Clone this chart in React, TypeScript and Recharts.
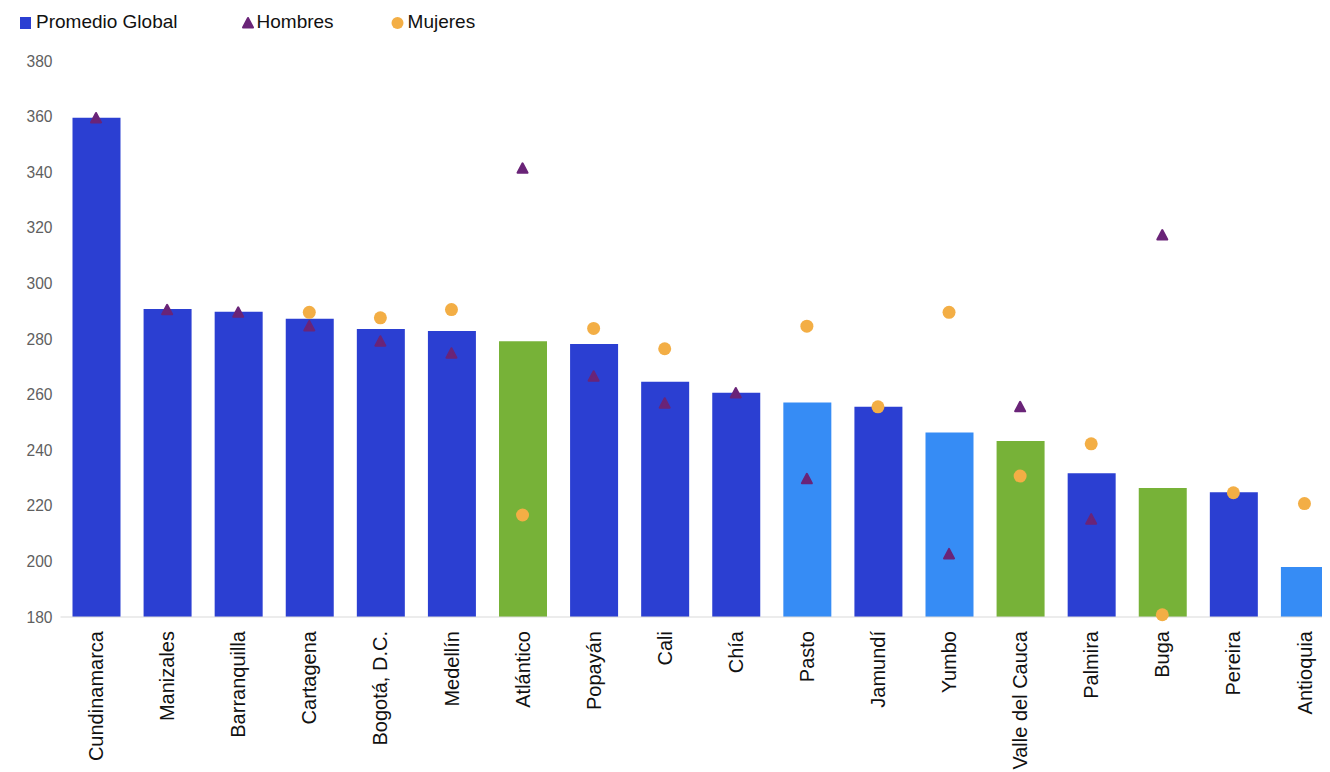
import { ComposedChart, Bar, Line, XAxis, YAxis, Cell } from 'recharts';

const categories = [
  'Cundinamarca', 'Manizales', 'Barranquilla', 'Cartagena', 'Bogotá, D.C.', 'Medellín',
  'Atlántico', 'Popayán', 'Cali', 'Chía', 'Pasto', 'Jamundí', 'Yumbo', 'Valle del Cauca',
  'Palmira', 'Buga', 'Pereira', 'Antioquia',
];

const promedioGlobal = [
  359.6, 290.8, 289.8, 287.3, 283.6, 282.9, 279.2, 278.2, 264.6, 260.7, 257.2, 255.6,
  246.4, 243.3, 231.7, 226.4, 224.9, 198,
];

const hombres: (number | null)[] = [
  359.5, 290.5, 289.6, 284.7, 279.2, 274.9, 341.4, 266.6, 256.9, 260.6, 229.7, null,
  202.7, 255.6, 215.2, 317.4, null, null,
];

const mujeres: (number | null)[] = [
  null, null, null, 289.6, 287.6, 290.6, 216.7, 283.8, 276.5, null, 284.6, 255.6,
  289.6, 230.7, 242.3, 180.8, 224.7, 220.8,
];

// colour group of each bar: 0 dark blue, 1 light blue, 2 green
const barGroup = [0, 0, 0, 0, 0, 0, 2, 0, 0, 0, 1, 0, 1, 2, 0, 2, 0, 1];

const yTicks = [180, 200, 220, 240, 260, 280, 300, 320, 340, 360, 380];

const groupColors = ['#2b3fd2', '#368cf5', '#77b238'];
const menColor = '#6a2478';
const womenColor = '#f3ae45';
const font = '"Liberation Sans", Arial, sans-serif';

const data = categories.map((name, i) => ({
  name,
  promedio: promedioGlobal[i],
  hombres: hombres[i],
  mujeres: mujeres[i],
}));

const Triangle = (props: any) => {
  const { cx, cy, value } = props;
  if (value == null || cx == null || cy == null) return <g />;
  return (
    <path
      d={`M${cx},${cy - 5} L${cx + 5},${cy + 4.5} L${cx - 5},${cy + 4.5} Z`}
      fill={menColor}
      stroke={menColor}
      strokeWidth={2}
      strokeLinejoin="round"
    />
  );
};

const Dot = (props: any) => {
  const { cx, cy, value } = props;
  if (value == null || cx == null || cy == null) return <g />;
  return <circle cx={cx} cy={cy} r={6.5} fill={womenColor} />;
};

const XTick = (props: any) => {
  const { x, y, payload } = props;
  const ty = y + 6;
  return (
    <text
      x={x}
      y={ty}
      dy="0.355em"
      textAnchor="end"
      transform={`rotate(-90, ${x}, ${ty})`}
      fill="#111"
      fontSize={20}
      fontFamily={font}
    >
      {payload.value}
    </text>
  );
};

function ChartLegend() {
  const item = { display: 'flex', alignItems: 'center' } as const;
  return (
    <div
      style={{
        position: 'absolute',
        top: 10,
        left: 20,
        display: 'flex',
        alignItems: 'center',
        fontFamily: font,
        fontSize: 19,
        color: '#111',
        lineHeight: '24px',
      }}
    >
      <div style={{ ...item, marginRight: 64 }}>
        <svg width={12} height={13} style={{ marginRight: 4 }}>
          <rect x={0} y={1} width={11} height={12} fill={groupColors[0]} />
        </svg>
        Promedio Global
      </div>
      <div style={{ ...item, marginRight: 57 }}>
        <svg width={12} height={13} style={{ marginRight: 3 }}>
          <path d="M6,2 L11,11.5 L1,11.5 Z" fill={menColor} stroke={menColor} strokeWidth={2} strokeLinejoin="round" />
        </svg>
        Hombres
      </div>
      <div style={item}>
        <svg width={13} height={13} style={{ marginRight: 4 }}>
          <circle cx={6.5} cy={7} r={6} fill={womenColor} />
        </svg>
        Mujeres
      </div>
    </div>
  );
}

export default function App() {
  return (
    <div style={{ width: 1330, height: 772, overflow: 'hidden', margin: '-8px 0 0 -8px', position: 'relative', background: '#fff' }}>
      <ChartLegend />
      <ComposedChart
        width={1340}
        height={772}
        data={data}
        margin={{ top: 61, right: 0, bottom: 0, left: 0 }}
        barCategoryGap={0}
      >
        <XAxis
          dataKey="name"
          interval={0}
          height={155}
          tickLine={false}
          axisLine={{ stroke: '#d9d9d9' }}
          tick={<XTick />}
        />
        <YAxis
          width={60.5}
          domain={[180, 380]}
          ticks={yTicks}
          axisLine={false}
          tickLine={false}
          tick={{ fill: '#5f5f5f', fontSize: 15.6, fontFamily: font }}
        />
        <Bar dataKey="promedio" barSize={48} isAnimationActive={false}>
          {data.map((d, i) => (
            <Cell key={d.name} fill={groupColors[barGroup[i]]} />
          ))}
        </Bar>
        <Line dataKey="mujeres" stroke="none" dot={<Dot />} activeDot={false} isAnimationActive={false} />
        <Line dataKey="hombres" stroke="none" dot={<Triangle />} activeDot={false} isAnimationActive={false} />
      </ComposedChart>
    </div>
  );
}
